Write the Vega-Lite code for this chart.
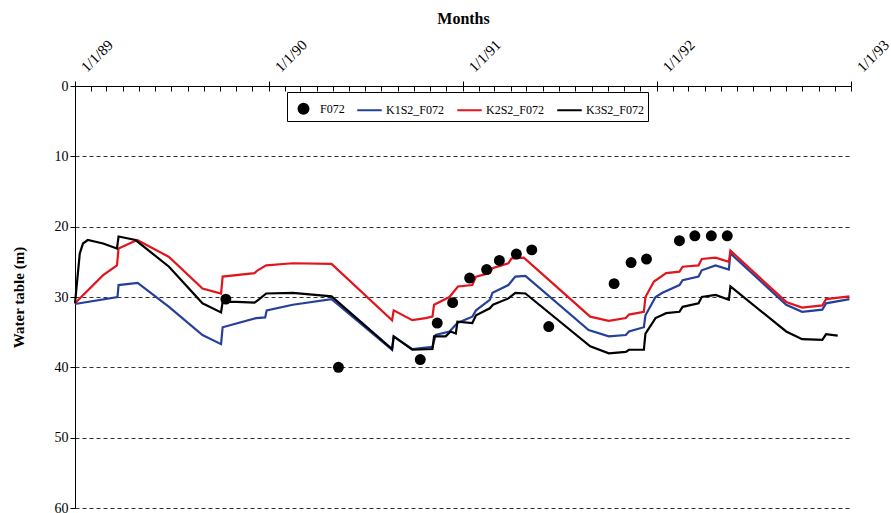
{
  "$schema": "https://vega.github.io/schema/vega-lite/v6.json",
  "width": 776,
  "height": 422,
  "autosize": "none",
  "padding": {"left": 75, "top": 86, "right": 40, "bottom": 5},
  "background": "white",
  "config": {"view": {"stroke": null}, "font": "Liberation Serif"},
  "datasets": {
    "lines": [
      {"series": "K1S2_F072", "date": "1989-01-01", "wt": 31.0},
      {"series": "K1S2_F072", "date": "1989-03-22", "wt": 30.0},
      {"series": "K1S2_F072", "date": "1989-03-24", "wt": 28.3},
      {"series": "K1S2_F072", "date": "1989-04-29", "wt": 28.0},
      {"series": "K1S2_F072", "date": "1989-06-27", "wt": 31.4},
      {"series": "K1S2_F072", "date": "1989-08-29", "wt": 35.4},
      {"series": "K1S2_F072", "date": "1989-10-03", "wt": 36.7},
      {"series": "K1S2_F072", "date": "1989-10-06", "wt": 34.3},
      {"series": "K1S2_F072", "date": "1989-12-08", "wt": 33.0},
      {"series": "K1S2_F072", "date": "1989-12-25", "wt": 32.9},
      {"series": "K1S2_F072", "date": "1989-12-28", "wt": 31.9},
      {"series": "K1S2_F072", "date": "1990-02-15", "wt": 31.1},
      {"series": "K1S2_F072", "date": "1990-04-29", "wt": 30.3},
      {"series": "K1S2_F072", "date": "1990-08-21", "wt": 37.5},
      {"series": "K1S2_F072", "date": "1990-08-24", "wt": 35.6},
      {"series": "K1S2_F072", "date": "1990-09-28", "wt": 37.4},
      {"series": "K1S2_F072", "date": "1990-11-05", "wt": 37.1},
      {"series": "K1S2_F072", "date": "1990-11-11", "wt": 35.4},
      {"series": "K1S2_F072", "date": "1990-12-07", "wt": 34.9},
      {"series": "K1S2_F072", "date": "1990-12-22", "wt": 33.7},
      {"series": "K1S2_F072", "date": "1991-01-19", "wt": 32.8},
      {"series": "K1S2_F072", "date": "1991-01-26", "wt": 31.9},
      {"series": "K1S2_F072", "date": "1991-02-21", "wt": 30.4},
      {"series": "K1S2_F072", "date": "1991-02-26", "wt": 29.4},
      {"series": "K1S2_F072", "date": "1991-03-28", "wt": 28.3},
      {"series": "K1S2_F072", "date": "1991-04-10", "wt": 27.1},
      {"series": "K1S2_F072", "date": "1991-04-29", "wt": 27.0},
      {"series": "K1S2_F072", "date": "1991-08-26", "wt": 34.7},
      {"series": "K1S2_F072", "date": "1991-10-03", "wt": 35.6},
      {"series": "K1S2_F072", "date": "1991-11-04", "wt": 35.4},
      {"series": "K1S2_F072", "date": "1991-11-10", "wt": 34.9},
      {"series": "K1S2_F072", "date": "1991-12-08", "wt": 34.3},
      {"series": "K1S2_F072", "date": "1991-12-11", "wt": 32.6},
      {"series": "K1S2_F072", "date": "1991-12-30", "wt": 30.0},
      {"series": "K1S2_F072", "date": "1992-01-12", "wt": 29.4},
      {"series": "K1S2_F072", "date": "1992-02-13", "wt": 28.3},
      {"series": "K1S2_F072", "date": "1992-02-19", "wt": 27.6},
      {"series": "K1S2_F072", "date": "1992-03-20", "wt": 27.1},
      {"series": "K1S2_F072", "date": "1992-03-26", "wt": 26.2},
      {"series": "K1S2_F072", "date": "1992-04-21", "wt": 25.5},
      {"series": "K1S2_F072", "date": "1992-05-16", "wt": 26.1},
      {"series": "K1S2_F072", "date": "1992-05-19", "wt": 23.8},
      {"series": "K1S2_F072", "date": "1992-09-01", "wt": 31.1},
      {"series": "K1S2_F072", "date": "1992-10-01", "wt": 32.1},
      {"series": "K1S2_F072", "date": "1992-11-08", "wt": 31.8},
      {"series": "K1S2_F072", "date": "1992-11-15", "wt": 30.9},
      {"series": "K1S2_F072", "date": "1992-12-29", "wt": 30.3},

      {"series": "K2S2_F072", "date": "1989-01-01", "wt": 30.9},
      {"series": "K2S2_F072", "date": "1989-02-23", "wt": 26.9},
      {"series": "K2S2_F072", "date": "1989-03-21", "wt": 25.5},
      {"series": "K2S2_F072", "date": "1989-03-24", "wt": 23.1},
      {"series": "K2S2_F072", "date": "1989-04-28", "wt": 21.9},
      {"series": "K2S2_F072", "date": "1989-06-27", "wt": 24.3},
      {"series": "K2S2_F072", "date": "1989-08-29", "wt": 28.8},
      {"series": "K2S2_F072", "date": "1989-10-03", "wt": 29.5},
      {"series": "K2S2_F072", "date": "1989-10-06", "wt": 27.1},
      {"series": "K2S2_F072", "date": "1989-12-05", "wt": 26.6},
      {"series": "K2S2_F072", "date": "1989-12-11", "wt": 26.2},
      {"series": "K2S2_F072", "date": "1989-12-27", "wt": 25.5},
      {"series": "K2S2_F072", "date": "1990-02-15", "wt": 25.2},
      {"series": "K2S2_F072", "date": "1990-04-29", "wt": 25.3},
      {"series": "K2S2_F072", "date": "1990-08-21", "wt": 33.3},
      {"series": "K2S2_F072", "date": "1990-08-24", "wt": 31.9},
      {"series": "K2S2_F072", "date": "1990-09-28", "wt": 33.3},
      {"series": "K2S2_F072", "date": "1990-10-23", "wt": 33.0},
      {"series": "K2S2_F072", "date": "1990-11-05", "wt": 32.8},
      {"series": "K2S2_F072", "date": "1990-11-08", "wt": 31.1},
      {"series": "K2S2_F072", "date": "1990-12-07", "wt": 30.0},
      {"series": "K2S2_F072", "date": "1990-12-23", "wt": 28.5},
      {"series": "K2S2_F072", "date": "1991-01-19", "wt": 28.3},
      {"series": "K2S2_F072", "date": "1991-01-26", "wt": 27.1},
      {"series": "K2S2_F072", "date": "1991-02-21", "wt": 26.6},
      {"series": "K2S2_F072", "date": "1991-02-26", "wt": 25.9},
      {"series": "K2S2_F072", "date": "1991-03-28", "wt": 25.2},
      {"series": "K2S2_F072", "date": "1991-04-03", "wt": 24.5},
      {"series": "K2S2_F072", "date": "1991-04-26", "wt": 24.4},
      {"series": "K2S2_F072", "date": "1991-08-29", "wt": 32.8},
      {"series": "K2S2_F072", "date": "1991-10-03", "wt": 33.4},
      {"series": "K2S2_F072", "date": "1991-11-04", "wt": 33.0},
      {"series": "K2S2_F072", "date": "1991-11-10", "wt": 32.5},
      {"series": "K2S2_F072", "date": "1991-12-08", "wt": 32.1},
      {"series": "K2S2_F072", "date": "1991-12-11", "wt": 30.0},
      {"series": "K2S2_F072", "date": "1991-12-27", "wt": 27.8},
      {"series": "K2S2_F072", "date": "1992-01-19", "wt": 26.6},
      {"series": "K2S2_F072", "date": "1992-02-13", "wt": 26.4},
      {"series": "K2S2_F072", "date": "1992-02-19", "wt": 25.7},
      {"series": "K2S2_F072", "date": "1992-03-20", "wt": 25.5},
      {"series": "K2S2_F072", "date": "1992-03-26", "wt": 24.6},
      {"series": "K2S2_F072", "date": "1992-04-21", "wt": 24.4},
      {"series": "K2S2_F072", "date": "1992-05-16", "wt": 25.0},
      {"series": "K2S2_F072", "date": "1992-05-19", "wt": 23.4},
      {"series": "K2S2_F072", "date": "1992-09-01", "wt": 30.7},
      {"series": "K2S2_F072", "date": "1992-10-01", "wt": 31.5},
      {"series": "K2S2_F072", "date": "1992-11-08", "wt": 31.2},
      {"series": "K2S2_F072", "date": "1992-11-15", "wt": 30.3},
      {"series": "K2S2_F072", "date": "1992-12-29", "wt": 29.9},

      {"series": "K3S2_F072", "date": "1989-01-01", "wt": 30.9},
      {"series": "K3S2_F072", "date": "1989-01-10", "wt": 23.8},
      {"series": "K3S2_F072", "date": "1989-01-16", "wt": 22.4},
      {"series": "K3S2_F072", "date": "1989-01-25", "wt": 21.9},
      {"series": "K3S2_F072", "date": "1989-02-23", "wt": 22.4},
      {"series": "K3S2_F072", "date": "1989-03-21", "wt": 23.1},
      {"series": "K3S2_F072", "date": "1989-03-24", "wt": 21.4},
      {"series": "K3S2_F072", "date": "1989-04-25", "wt": 21.9},
      {"series": "K3S2_F072", "date": "1989-06-27", "wt": 25.7},
      {"series": "K3S2_F072", "date": "1989-08-29", "wt": 30.9},
      {"series": "K3S2_F072", "date": "1989-10-03", "wt": 32.2},
      {"series": "K3S2_F072", "date": "1989-10-06", "wt": 30.7},
      {"series": "K3S2_F072", "date": "1989-11-01", "wt": 30.7},
      {"series": "K3S2_F072", "date": "1989-12-05", "wt": 30.8},
      {"series": "K3S2_F072", "date": "1989-12-14", "wt": 30.3},
      {"series": "K3S2_F072", "date": "1989-12-27", "wt": 29.5},
      {"series": "K3S2_F072", "date": "1990-02-15", "wt": 29.4},
      {"series": "K3S2_F072", "date": "1990-04-29", "wt": 29.9},
      {"series": "K3S2_F072", "date": "1990-08-21", "wt": 37.4},
      {"series": "K3S2_F072", "date": "1990-08-24", "wt": 35.6},
      {"series": "K3S2_F072", "date": "1990-09-28", "wt": 37.5},
      {"series": "K3S2_F072", "date": "1990-11-05", "wt": 37.4},
      {"series": "K3S2_F072", "date": "1990-11-08", "wt": 35.6},
      {"series": "K3S2_F072", "date": "1990-11-30", "wt": 35.6},
      {"series": "K3S2_F072", "date": "1990-12-09", "wt": 34.9},
      {"series": "K3S2_F072", "date": "1990-12-19", "wt": 35.2},
      {"series": "K3S2_F072", "date": "1990-12-22", "wt": 33.5},
      {"series": "K3S2_F072", "date": "1991-01-19", "wt": 33.7},
      {"series": "K3S2_F072", "date": "1991-01-26", "wt": 32.6},
      {"series": "K3S2_F072", "date": "1991-02-21", "wt": 31.6},
      {"series": "K3S2_F072", "date": "1991-02-27", "wt": 31.1},
      {"series": "K3S2_F072", "date": "1991-03-28", "wt": 30.2},
      {"series": "K3S2_F072", "date": "1991-04-10", "wt": 29.4},
      {"series": "K3S2_F072", "date": "1991-04-29", "wt": 29.5},
      {"series": "K3S2_F072", "date": "1991-08-29", "wt": 37.0},
      {"series": "K3S2_F072", "date": "1991-10-03", "wt": 38.0},
      {"series": "K3S2_F072", "date": "1991-11-04", "wt": 37.8},
      {"series": "K3S2_F072", "date": "1991-11-10", "wt": 37.5},
      {"series": "K3S2_F072", "date": "1991-12-08", "wt": 37.5},
      {"series": "K3S2_F072", "date": "1991-12-11", "wt": 35.2},
      {"series": "K3S2_F072", "date": "1991-12-30", "wt": 33.0},
      {"series": "K3S2_F072", "date": "1992-01-19", "wt": 32.3},
      {"series": "K3S2_F072", "date": "1992-02-13", "wt": 32.1},
      {"series": "K3S2_F072", "date": "1992-02-19", "wt": 31.4},
      {"series": "K3S2_F072", "date": "1992-03-20", "wt": 30.9},
      {"series": "K3S2_F072", "date": "1992-03-26", "wt": 30.0},
      {"series": "K3S2_F072", "date": "1992-04-21", "wt": 29.7},
      {"series": "K3S2_F072", "date": "1992-05-16", "wt": 30.4},
      {"series": "K3S2_F072", "date": "1992-05-19", "wt": 28.5},
      {"series": "K3S2_F072", "date": "1992-09-01", "wt": 34.9},
      {"series": "K3S2_F072", "date": "1992-10-01", "wt": 36.0},
      {"series": "K3S2_F072", "date": "1992-11-08", "wt": 36.1},
      {"series": "K3S2_F072", "date": "1992-11-15", "wt": 35.3},
      {"series": "K3S2_F072", "date": "1992-12-07", "wt": 35.5}
    ],
    "obs": [
      {"series": "F072", "date": "1989-10-12", "wt": 30.3},
      {"series": "F072", "date": "1990-05-12", "wt": 40.0},
      {"series": "F072", "date": "1990-10-13", "wt": 38.9},
      {"series": "F072", "date": "1990-11-14", "wt": 33.7},
      {"series": "F072", "date": "1990-12-13", "wt": 30.8},
      {"series": "F072", "date": "1991-01-14", "wt": 27.3},
      {"series": "F072", "date": "1991-02-15", "wt": 26.1},
      {"series": "F072", "date": "1991-03-11", "wt": 24.8},
      {"series": "F072", "date": "1991-04-12", "wt": 23.9},
      {"series": "F072", "date": "1991-05-11", "wt": 23.3},
      {"series": "F072", "date": "1991-06-12", "wt": 34.2},
      {"series": "F072", "date": "1991-10-13", "wt": 28.1},
      {"series": "F072", "date": "1991-11-14", "wt": 25.1},
      {"series": "F072", "date": "1991-12-13", "wt": 24.6},
      {"series": "F072", "date": "1992-02-13", "wt": 22.0},
      {"series": "F072", "date": "1992-03-13", "wt": 21.3},
      {"series": "F072", "date": "1992-04-13", "wt": 21.3},
      {"series": "F072", "date": "1992-05-13", "wt": 21.3}
    ]
  },
  "layer": [
    {
      "data": {"name": "lines"},
      "mark": {"type": "line", "strokeWidth": 2.2},
      "encoding": {
        "x": {
          "field": "date", "type": "temporal",
          "scale": {"type": "utc", "domain": [{"year": 1989, "month": 1, "date": 1, "utc": true}, {"year": 1993, "month": 1, "date": 1, "utc": true}]},
          "axis": {
            "orient": "top",
            "tickCount": {"interval": "year", "step": 1},
            "format": "%-m/%-d/%y",
            "labelAngle": -45,
            "labelAlign": "left",
            "labelBaseline": "middle",
            "labelPadding": 12,
            "labelOffset": 8,
            "labelFlush": false,
            "labelBound": false,
            "labelOverlap": false,
            "labelFontSize": 15,
            "labelColor": "black",
            "labelFont": "Liberation Serif",
            "tickSize": 5,
            "tickColor": "black",
            "domainColor": "black",
            "grid": false,
            "title": "Months",
            "titleFont": "Liberation Serif",
            "titleFontSize": 16,
            "titleFontWeight": "bold",
            "titleColor": "black",
            "titlePadding": 10
          }
        },
        "y": {
          "field": "wt", "type": "quantitative",
          "scale": {"domain": [0, 60], "reverse": true, "nice": false},
          "axis": {
            "values": [0, 10, 20, 30, 40, 50, 60],
            "tickSize": 5,
            "tickColor": "black",
            "domainColor": "black",
            "grid": true,
            "gridDash": [4, 3],
            "gridColor": "black",
            "gridOpacity": 0.8,
            "labelFontSize": 14,
            "labelColor": "black",
            "labelFont": "Liberation Serif",
            "title": "Water table (m)",
            "titleFont": "Liberation Serif",
            "titleFontSize": 15,
            "titleFontWeight": "bold",
            "titleColor": "black",
            "titlePadding": 28
          }
        },
        "color": {
          "field": "series", "type": "nominal",
          "scale": {"domain": ["F072", "K1S2_F072", "K2S2_F072", "K3S2_F072"], "range": ["black", "#25409a", "#e2141c", "black"]},
          "legend": {
            "orient": "none",
            "legendX": 212,
            "legendY": 6,
            "direction": "horizontal",
            "title": null,
            "strokeColor": "black",
            "fillColor": "white",
            "padding": 3,
            "columnPadding": 8,
            "labelFontSize": 12,
            "labelFont": "Liberation Serif",
            "labelColor": "black",
            "labelOffset": 3,
            "symbolSize": 600,
            "symbolType": "stroke",
            "symbolStrokeWidth": 2,
            "encode": {
              "symbols": {
                "update": {
                  "shape": {"signal": "datum.value === 'F072' ? 'circle' : 'stroke'"},
                  "size": {"signal": "datum.value === 'F072' ? 100 : 600"},
                  "fill": {"signal": "datum.value === 'F072' ? 'black' : 'transparent'"},
                  "stroke": {"signal": "datum.value === 'F072' ? 'transparent' : scale('color', datum.value)"},
                  "strokeWidth": {"value": 2},
                  "opacity": {"value": 1}
                }
              }
            }
          }
        }
      }
    },
    {
      "data": {"name": "obs"},
      "mark": {"type": "point", "filled": true, "size": 120, "opacity": 1, "shape": "circle"},
      "encoding": {
        "x": {
          "field": "date", "type": "temporal",
          "axis": {
            "orient": "top",
            "tickCount": {"interval": "month", "step": 1},
            "labels": false,
            "domain": false,
            "grid": false,
            "title": null,
            "tickSize": -5,
            "tickColor": "black"
          }
        },
        "y": {"field": "wt", "type": "quantitative"},
        "color": {"field": "series", "type": "nominal"}
      }
    }
  ],
  "resolve": {"axis": {"x": "independent"}}
}
